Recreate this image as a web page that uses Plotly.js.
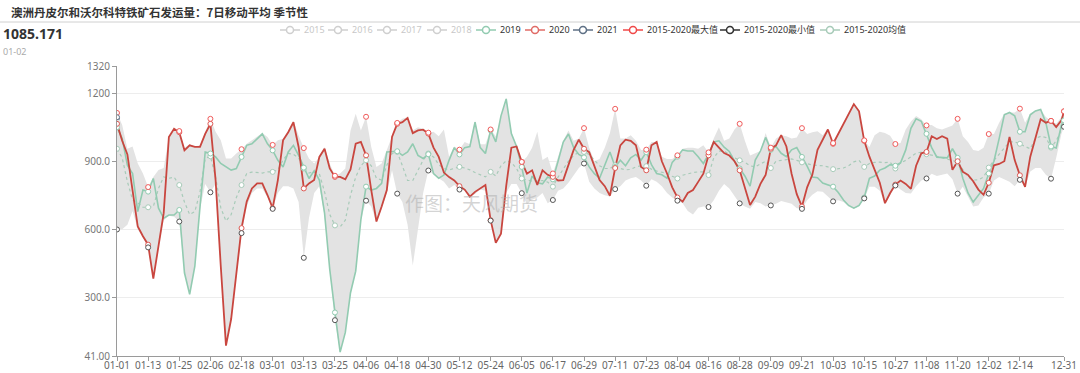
<!DOCTYPE html>
<html>
<head>
<meta charset="utf-8">
<script src="https://cdn.plot.ly/plotly-3.0.1.min.js"></script>
<style>
html,body{margin:0;padding:0;background:#fff;}
#chart{width:1080px;height:373px;}
</style>
</head>
<body>
<div id="chart"></div>
<script>
// ---------------- DATA ----------------
// Values sampled every 2 days (day-of-year 0,2,4,...,364) plus the last day (12-31).
const chartTitle = '澳洲丹皮尔和沃尔科特铁矿石发运量：7日移动平均 季节性';
const latestValue = '1085.171';
const latestDate = '01-02';
const watermark = '作图：天风期货';

const xTickLabels = ['01-01','01-13','01-25','02-06','02-18','03-01','03-13','03-25','04-06','04-18',
  '04-30','05-12','05-24','06-05','06-17','06-29','07-11','07-23','08-04','08-16','08-28','09-09',
  '09-21','10-03','10-15','10-27','11-08','11-20','12-02','12-14','12-31'];
const yTickValues = [41, 300, 600, 900, 1200, 1320];
const yTickLabels = ['41.00', '300.0', '600.0', '900.0', '1200', '1320'];

const legendNames = ['2015','2016','2017','2018','2019','2020','2021','2015-2020最大值','2015-2020最小值','2015-2020均值'];

const series2020 = [1065,990,930,766,612,569,532,382,532,671,
1007,1043,1028,948,970,963,963,1021,1065,817,
437,87,204,408,605,722,780,802,802,751,
693,817,992,1028,1072,963,780,802,817,919,
955,868,831,831,820,864,977,985,926,773,
634,700,773,1007,1065,1072,1091,1024,1036,1039,
1022,960,919,850,830,815,790,775,744,765,
780,795,640,540,580,790,960,965,897,845,
860,795,860,840,831,815,817,880,950,995,
955,940,875,817,790,748,870,970,995,990,
970,875,860,970,985,900,846,785,740,722,
760,773,809,845,926,985,960,936,925,900,
860,785,707,744,800,840,955,970,1015,965,
845,755,700,785,840,950,995,1040,977,1021,
1065,1115,1152,1120,990,920,862,805,715,760,
797,815,800,778,880,935,941,1010,998,1010,
1000,862,900,853,840,812,775,752,805,882,
888,900,1007,905,838,787,920,1000,1085,1070,
1078,1051,1080,1120];

const series2019 = [1050,1000,882,846,678,773,766,824,693,649,
663,663,685,408,313,437,700,941,934,919,
890,875,861,868,919,970,977,999,1021,977,
948,904,875,941,970,926,872,824,858,817,
671,423,233,58,145,320,415,642,788,773,
780,802,941,941,944,926,941,977,926,912,
931,846,825,839,905,960,930,960,965,1072,
960,934,1036,985,1100,1175,1022,965,875,760,
835,805,800,830,820,900,985,1020,960,930,
917,875,845,825,885,941,875,904,880,915,
930,905,940,885,846,840,825,895,920,950,
945,945,920,890,930,985,990,962,943,900,
868,835,790,905,945,1005,950,965,935,920,
950,960,919,878,830,827,804,797,788,762,
729,705,693,705,740,825,835,861,870,885,
880,893,950,1045,1087,1076,1021,960,918,918,
915,955,915,825,760,720,750,780,846,900,
1000,1105,1115,1100,1030,1030,1105,1122,1128,1070,
965,958,1060,1080];

const seriesMean = [955,915,810,730,717,697,697,700,780,831,
825,830,795,720,665,678,765,912,922,830,
695,636,665,740,795,846,852,850,848,853,
853,862,905,935,930,915,868,848,855,845,
765,665,617,610,640,750,830,880,904,880,
825,817,882,934,941,880,815,815,860,905,
934,919,885,868,862,868,875,870,862,850,
839,831,853,835,880,902,895,868,824,817,
812,812,815,808,788,830,865,900,925,940,
941,930,905,880,868,868,882,868,862,864,
875,880,878,865,857,852,846,834,824,838,
845,850,853,853,839,915,945,945,930,915,
904,895,880,875,888,900,870,900,904,908,
910,904,895,889,883,882,880,875,865,867,
870,880,897,904,875,890,895,896,894,896,
868,892,904,920,935,940,931,927,921,916,
912,906,897,863,830,817,818,830,872,904,
930,960,985,985,977,965,955,1000,1010,1005,
960,990,1040,1075];

const seriesMax = [1113,1060,955,965,890,846,786,830,861,870,
1007,1043,1033,960,975,965,970,1030,1087,1030,
992,912,912,934,953,977,992,1007,1024,1007,
972,992,999,1036,1077,1014,958,912,890,919,
963,890,836,846,868,1036,1109,1036,1096,963,
875,890,948,1007,1069,1087,1094,1036,1050,1043,
1026,1030,1010,1040,920,965,951,985,975,1080,
975,975,1040,1010,1100,1180,1030,965,897,920,
960,1030,905,920,846,920,990,1036,990,1000,
1046,960,900,910,960,1025,1131,1000,1000,1015,
990,950,951,985,985,920,910,910,926,955,
960,960,955,970,939,1000,1050,990,1000,1040,
1065,990,925,935,945,1025,960,1000,1015,1010,
1000,1005,1046,1020,1028,1032,1015,1043,980,1028,
1068,1115,1152,1125,992,963,1015,1030,1025,1012,
976,980,1040,1075,1100,1085,1058,1060,1045,1040,
1050,1058,1087,1010,985,950,945,960,1020,1020,
1070,1110,1115,1115,1132,1070,1110,1125,1128,1095,
1078,1065,1095,1120];

const seriesMin = [599,600,620,680,600,565,520,379,525,640,
660,655,634,408,310,437,690,800,763,800,
437,85,200,400,583,700,760,780,780,740,
690,760,790,790,780,720,474,650,760,790,
660,420,199,55,140,318,410,640,726,700,
630,690,760,860,757,720,620,440,600,760,
859,840,825,810,780,795,775,770,744,755,
775,770,638,540,578,760,800,800,759,710,
730,740,760,715,729,770,780,805,840,870,
890,810,780,760,750,745,777,790,815,825,
830,815,792,820,810,790,760,740,726,715,
680,665,695,700,698,728,770,800,780,745,
714,700,690,720,715,700,705,713,725,720,
712,693,690,728,752,768,765,745,723,728,
720,700,690,700,736,788,788,770,712,750,
793,775,760,758,790,815,824,845,835,840,
846,820,757,788,745,700,705,740,757,815,
830,820,810,790,818,785,855,870,870,840,
823,915,1020,1052];

const days2021 = [0, 1];
const series2021 = [1094, 1085.171];

// ---------------- derived positions ----------------
const SAMPLE_STEP = 2;
const LAST_DAY = 365;
const sampleDays = series2020.map((_, i) => i === series2020.length - 1 ? LAST_DAY : i * SAMPLE_STEP);
const markerIdx = sampleDays.map((d, i) => (d % 12 === 0 || i === sampleDays.length - 1) ? i : -1).filter(i => i >= 0);
const pick = arr => markerIdx.map(i => arr[i]);
const markDays = pick(sampleDays);

function dayOfYear(label) {
  const [m, d] = label.split('-').map(Number);
  return Math.round((Date.UTC(2020, m - 1, d) - Date.UTC(2020, 0, 1)) / 86400000);
}
const xTickValues = xTickLabels.map(dayOfYear);

// ---------------- styles ----------------
const C = {
  c2019: '#92cbb1', c2020: '#c9463f', c2021: '#5f7186',
  cMax: '#f05b5b', cMin: '#555555', cMean: '#a8cbb9', band: '#e3e3e3', off: '#cfcfcf'
};
const FONT = 'Noto Sans, Open Sans, Noto Sans CJK SC, sans-serif';
const CJK = 'Noto Sans CJK SC, Noto Sans, sans-serif';

function markerTrace(y, color) {
  return {x: markDays, y: y, mode: 'markers', type: 'scatter', hoverinfo: 'skip', showlegend: false,
    marker: {symbol: 'circle', size: 5, color: '#ffffff', line: {color: color, width: 1}}};
}

const traces = [
  {x: sampleDays, y: seriesMin, mode: 'lines', type: 'scatter', line: {width: 0, color: 'rgba(0,0,0,0)'}, hoverinfo: 'skip', showlegend: false},
  {x: sampleDays, y: seriesMax, mode: 'lines', type: 'scatter', line: {width: 0, color: 'rgba(0,0,0,0)'}, fill: 'tonexty', fillcolor: C.band, hoverinfo: 'skip', showlegend: false},
  {x: sampleDays, y: seriesMean, mode: 'lines', type: 'scatter', line: {width: 1.2, color: C.cMean, dash: 'dot'}, hoverinfo: 'skip', showlegend: false},
  {x: sampleDays, y: series2019, mode: 'lines', type: 'scatter', line: {width: 1.6, color: C.c2019}, hoverinfo: 'skip', showlegend: false},
  {x: sampleDays, y: series2020, mode: 'lines', type: 'scatter', line: {width: 1.8, color: C.c2020}, hoverinfo: 'skip', showlegend: false},
  {x: days2021, y: series2021, mode: 'lines', type: 'scatter', line: {width: 1.6, color: C.c2021}, hoverinfo: 'skip', showlegend: false},
  markerTrace(pick(seriesMean), C.cMean),
  markerTrace(pick(series2019), C.c2019),
  markerTrace(pick(series2020), '#dd5a55'),
  markerTrace(pick(seriesMin), C.cMin),
  markerTrace(pick(seriesMax), C.cMax),
  {x: [days2021[0]], y: [series2021[0]], mode: 'markers', type: 'scatter', hoverinfo: 'skip', showlegend: false,
    marker: {symbol: 'circle', size: 5, color: '#ffffff', line: {color: C.c2021, width: 1}}}
];

// ---------------- layout ----------------
const W = 1080, H = 373;
const M = {l: 117, r: 16, t: 66, b: 17};
const PW = W - M.l - M.r, PH = H - M.t - M.b;
const px = x => (x - M.l) / PW;
const py = y => (H - M.b - y) / PH;

const annotations = [
  {text: '<b>' + chartTitle + '</b>', x: px(9), y: py(12), xref: 'paper', yref: 'paper', xanchor: 'left', yanchor: 'middle', showarrow: false, font: {family: CJK, size: 11.5, color: '#333'}},
  {text: '<b>' + latestValue + '</b>', x: px(1), y: py(33), xref: 'paper', yref: 'paper', xanchor: 'left', yanchor: 'middle', showarrow: false, font: {family: FONT, size: 14, color: '#333'}},
  {text: latestDate, x: px(1), y: py(51), xref: 'paper', yref: 'paper', xanchor: 'left', yanchor: 'middle', showarrow: false, font: {family: FONT, size: 9, color: '#aaaaaa'}},
  {text: watermark, x: px(403), y: py(202), xref: 'paper', yref: 'paper', xanchor: 'left', yanchor: 'middle', showarrow: false, font: {family: CJK, size: 19, color: 'rgba(170,170,170,0.5)'}}
];
const shapes = [
  {type: 'line', xref: 'paper', yref: 'paper', x0: px(0), x1: px(W), y0: py(22), y1: py(22), line: {color: '#d0d0d0', width: 1}}
];

// legend, drawn by hand (icon: short line with a hollow circle)
const legendColors = [C.off, C.off, C.off, C.off, C.c2019, '#e06b66', C.c2021, '#f04848', '#333333', C.cMean];
const legendActive = [false, false, false, false, true, true, true, true, true, true];
const legendX = [280, 328, 377, 427, 476, 525, 573, 623, 720, 820];
const LEG_Y = 30;
legendNames.forEach((name, i) => {
  const x0 = legendX[i];
  const col = legendColors[i];
  shapes.push({type: 'line', xref: 'paper', yref: 'paper', x0: px(x0), x1: px(x0 + 20), y0: py(LEG_Y), y1: py(LEG_Y), line: {color: col, width: 1.5}});
  shapes.push({type: 'circle', xref: 'paper', yref: 'paper', x0: px(x0 + 6.5), x1: px(x0 + 13.5), y0: py(LEG_Y + 3.5), y1: py(LEG_Y - 3.5), fillcolor: '#ffffff', line: {color: col, width: 1.5}});
  annotations.push({text: name, x: px(x0 + 22), y: py(LEG_Y), xref: 'paper', yref: 'paper', xanchor: 'left', yanchor: 'middle', showarrow: false,
    font: {family: 'Noto Sans, Noto Sans CJK SC, sans-serif', size: 9, color: legendActive[i] ? '#333333' : '#c8c8c8'}});
});

const layout = {
  width: W, height: H, margin: M, paper_bgcolor: '#ffffff', plot_bgcolor: '#ffffff',
  showlegend: false, hovermode: false,
  xaxis: {range: [0, LAST_DAY], tickvals: xTickValues, ticktext: xTickLabels, showgrid: false, zeroline: false,
    showline: true, linecolor: '#9a9a9a', linewidth: 1, ticks: 'outside', ticklen: 4, tickcolor: '#9a9a9a',
    ticklabelstandoff: -4,
    tickfont: {family: FONT, size: 10, color: '#666'}, automargin: false, fixedrange: true},
  yaxis: {range: [41, 1320], tickvals: yTickValues, ticktext: yTickLabels, showgrid: true, gridcolor: '#ededed', gridwidth: 1,
    zeroline: false, showline: true, linecolor: '#9a9a9a', linewidth: 1, ticks: 'outside', ticklen: 4, tickcolor: '#9a9a9a',
    tickfont: {family: FONT, size: 10, color: '#777'}, automargin: false, fixedrange: true},
  annotations: annotations, shapes: shapes
};

Plotly.newPlot('chart', traces, layout, {displayModeBar: false, staticPlot: true});
</script>
</body>
</html>
